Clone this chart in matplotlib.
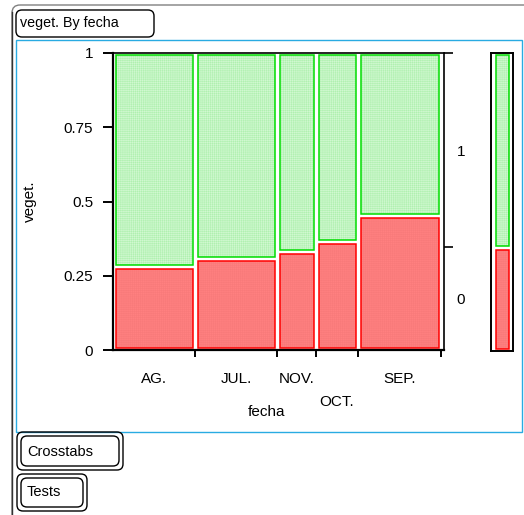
import matplotlib
matplotlib.use("Agg")
import matplotlib.pyplot as plt
from matplotlib.patches import Rectangle, FancyBboxPatch
import numpy as np

plt.rcParams['font.family'] = ['Liberation Sans', 'DejaVu Sans']
plt.rcParams['font.size'] = 11
plt.rcParams['hatch.linewidth'] = 0.4

# Datos: fecha (eje x) y proporción de veget.
fecha = ['AG.', 'JUL.', 'NOV.', 'OCT.', 'SEP.']
n_fecha = [82, 82, 39, 42, 83]
prop_0 = [0.28, 0.305, 0.33, 0.365, 0.45]
niveles = ['0', '1']

W, H = 524, 515
fig = plt.figure(figsize=(W / 100, H / 100), dpi=100)

# capa de fondo en pixeles para marcos y cajas
bg = fig.add_axes([0, 0, 1, 1])
bg.set_xlim(0, W)
bg.set_ylim(H, 0)
bg.axis('off')

def caja(x0, y0, x1, y1, lw=1.0, color='black', r=6):
    bg.add_patch(FancyBboxPatch((x0, y0), x1 - x0, y1 - y0,
                                boxstyle=f"round,pad=0,rounding_size={r}",
                                fc='none', ec=color, lw=lw))

caja(12, 5, 560, 560, lw=1.0, color='#808080', r=8)
bg.plot([12, 12], [12, H], color='#333333', lw=1.0)
caja(16, 10, 154, 37)
bg.text(20, 23.5, 'veget. By fecha', va='center', ha='left', fontsize=10.3)
bg.add_patch(Rectangle((16, 40), 506, 392, fc='none', ec='#29abe2', lw=1.0))
caja(17, 432, 123, 470)
caja(21, 436, 119, 466)
bg.text(27, 452, 'Crosstabs', va='center', ha='left', fontsize=10.5)
caja(17, 474, 87, 511)
caja(21, 478, 83, 507)
bg.text(27, 492.5, 'Tests', va='center', ha='left', fontsize=10.5)
bg.text(267, 412, 'fecha', va='center', ha='center', fontsize=11)

# gráfico de mosaico principal
x_px0, x_px1 = 113, 441
y_top, y_bot = 53, 350
sx = x_px1 - x_px0
sy = y_bot - y_top
ax = fig.add_axes([x_px0 / W, (H - y_bot) / H, (444 - x_px0) / W, sy / H])
ax.set_xlim(0, (444 - x_px0) / sx)
ax.set_ylim(0, 1)
ax.patch.set_alpha(0)

rojo_fc, rojo_h, rojo_ec = '#ff8080', '#f87a7a', '#ff0000'
verde_fc, verde_h, verde_ec = '#b0f0b0', '#d0f8d0', '#00dd00'

def celda(a, x0, x1, y0, y1, fc, hc, ec, dx, dy):
    a.add_patch(Rectangle((x0 + dx, y0 + dy), x1 - x0 - 2 * dx, y1 - y0 - 2 * dy,
                          fc=fc, ec=hc, lw=0, hatch='++++++++'))
    a.add_patch(Rectangle((x0 + dx, y0 + dy), x1 - x0 - 2 * dx, y1 - y0 - 2 * dy,
                          fc='none', ec=ec, lw=1.1))

n = np.array(n_fecha, dtype=float)
bordes = np.concatenate([[0], np.cumsum(n) / n.sum()])
centros = (bordes[:-1] + bordes[1:]) / 2
dx, dy = 2.5 / sx, 2.0 / sy
for i in range(len(fecha)):
    x0, x1 = bordes[i], bordes[i + 1]
    celda(ax, x0, x1, 0, prop_0[i], rojo_fc, rojo_h, rojo_ec, dx, dy)
    celda(ax, x0, x1, prop_0[i], 1, verde_fc, verde_h, verde_ec, dx, dy)

for s in ['left', 'bottom']:
    ax.spines[s].set_linewidth(1.6)
ax.spines['top'].set_linewidth(1.2)
ax.spines['right'].set_visible(False)

ax.set_yticks([0, 0.25, 0.5, 0.75, 1])
ax.set_yticklabels(['0', '0.25', '0.5', '0.75', '1'])
ax.tick_params(axis='y', direction='out', length=7.2, width=1.4, pad=7)
ax.set_xticks(bordes[1:])
ax.set_xticklabels([])
ax.tick_params(axis='x', direction='out', length=5, width=1.4)
ax.set_ylabel('veget.', fontsize=11, labelpad=19)

# etiquetas de fecha (OCT. desplazada hacia abajo)
for i, lab in enumerate(fecha):
    off = -52 if lab == 'OCT.' else -29
    ax.annotate(lab, xy=(centros[i], 0), xycoords=('data', 'axes fraction'),
                xytext=(0, off), textcoords='offset pixels',
                ha='center', va='center', fontsize=11)

# eje derecho con los niveles de veget.
total_0 = float(np.sum(n * np.array(prop_0)) / n.sum())
ax2 = ax.twinx()
ax2.set_ylim(0, 1)
for s in ['left', 'top', 'bottom']:
    ax2.spines[s].set_visible(False)
ax2.spines['right'].set_linewidth(1.2)
ax2.set_yticks([total_0, 1])
ax2.set_yticklabels([])
ax2.set_yticks([total_0 / 2, (1 + total_0) / 2], minor=True)
ax2.set_yticklabels(niveles, minor=True)
ax2.tick_params(axis='y', which='major', direction='out', length=6.5, width=1.2)
ax2.tick_params(axis='y', which='minor', length=0, pad=9)

# barra marginal
axm = fig.add_axes([491 / W, (H - 351) / H, 22 / W, 298 / H])
axm.set_xlim(0, 1)
axm.set_ylim(0, 1)
axm.set_xticks([])
axm.set_yticks([])
for s in axm.spines.values():
    s.set_linewidth(1.4)
mdx, mdy = 4.5 / 22, 2.0 / 298
celda(axm, 0, 1, 0, total_0, rojo_fc, rojo_h, rojo_ec, mdx, mdy)
celda(axm, 0, 1, total_0, 1, verde_fc, verde_h, verde_ec, mdx, mdy)

fig.savefig('out.png', dpi=100)
